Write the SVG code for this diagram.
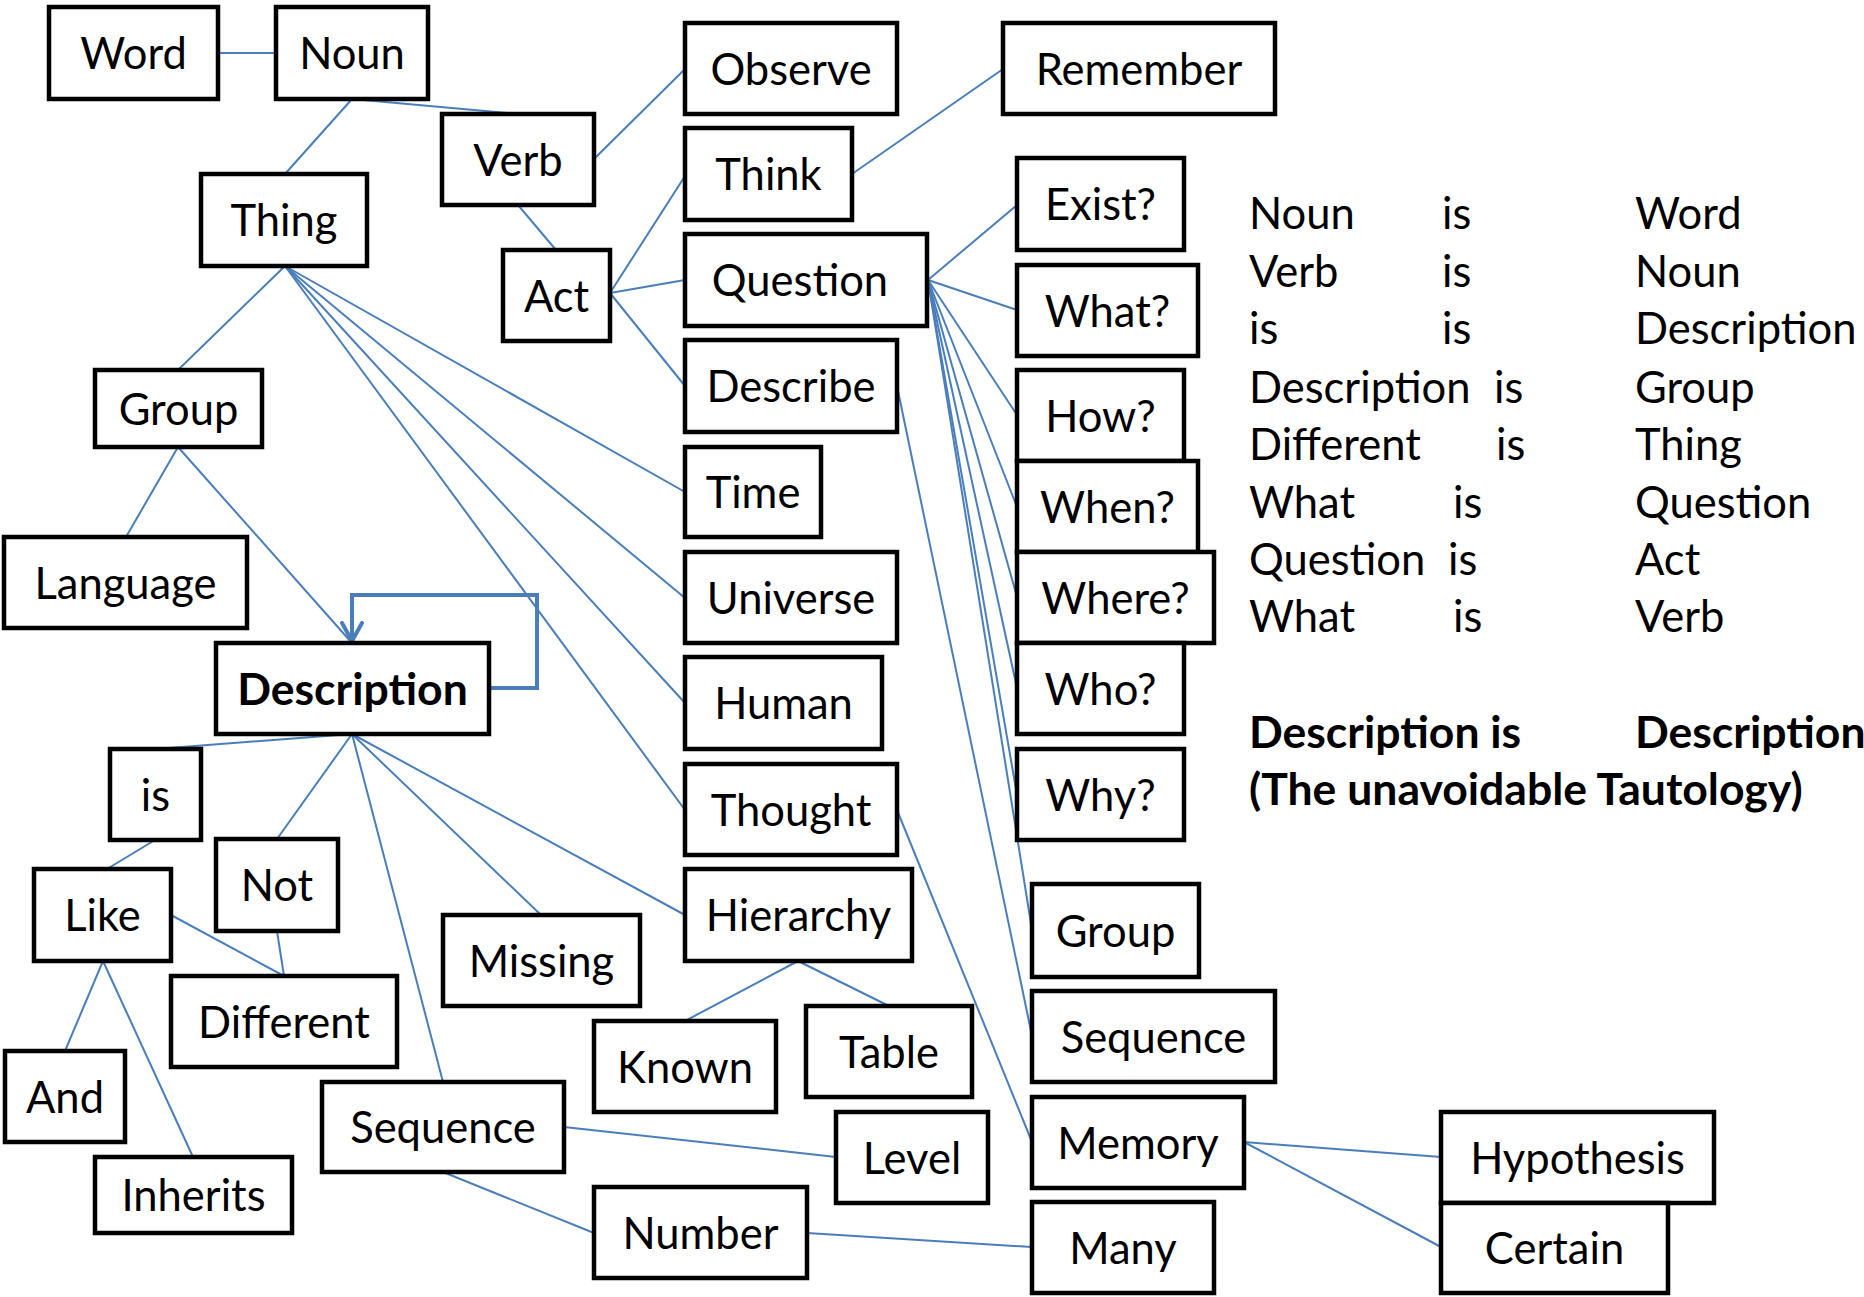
<svg xmlns="http://www.w3.org/2000/svg" width="1864" height="1297" viewBox="0 0 1864 1297">
  <defs>
    <style>
      .box { fill: #ffffff; stroke: #000000; stroke-width: 4.5; }
      .lbl { font-family: Lato, Carlito, "Liberation Sans", sans-serif; font-size: 43.5px; fill: #000000; text-anchor: middle; }
      .bold { font-weight: bold; font-size: 44.5px; }
      .edge { stroke: #4a7ebb; stroke-width: 2; fill: none; }
      .loop { stroke: #4a7ebb; stroke-width: 4; fill: none; stroke-linejoin: miter; }
      .note { font-family: Lato, Carlito, "Liberation Sans", sans-serif; font-size: 43.5px; fill: #000000; }
      .note .strong { font-weight: bold; font-size: 44.5px; }
    </style>
    <marker id="chevron" viewBox="0 0 24 24" refX="20" refY="12" markerWidth="24" markerHeight="24" markerUnits="userSpaceOnUse" orient="auto">
      <path d="M2,2 L20,12 L2,22" fill="none" stroke="#4a7ebb" stroke-width="4" stroke-linecap="round" stroke-linejoin="round"/>
    </marker>
  </defs>
  <rect x="0" y="0" width="1864" height="1297" fill="#ffffff"/>

  <!-- connectors -->
  <g id="connectors">
    <line class="edge" x1="218" y1="53" x2="276" y2="53"/>
    <line class="edge" x1="352" y1="99" x2="285" y2="174"/>
    <line class="edge" x1="352" y1="99" x2="518" y2="114"/>
    <line class="edge" x1="518" y1="205" x2="556" y2="250"/>
    <line class="edge" x1="594" y1="159" x2="685" y2="69"/>
    <line class="edge" x1="610" y1="293" x2="685" y2="176"/>
    <line class="edge" x1="610" y1="293" x2="685" y2="280"/>
    <line class="edge" x1="610" y1="293" x2="685" y2="386"/>
    <line class="edge" x1="852" y1="174" x2="1003" y2="69"/>
    <line class="edge" x1="928" y1="280" x2="1017" y2="205"/>
    <line class="edge" x1="928" y1="280" x2="1017" y2="310"/>
    <line class="edge" x1="928" y1="280" x2="1017" y2="415"/>
    <line class="edge" x1="928" y1="280" x2="1017" y2="507"/>
    <line class="edge" x1="928" y1="280" x2="1017" y2="597"/>
    <line class="edge" x1="928" y1="280" x2="1017" y2="688"/>
    <line class="edge" x1="928" y1="280" x2="1017" y2="795"/>
    <line class="edge" x1="928" y1="280" x2="1032" y2="930"/>
    <line class="edge" x1="897" y1="386" x2="1032" y2="1036"/>
    <line class="edge" x1="897" y1="810" x2="1032" y2="1142"/>
    <line class="edge" x1="285" y1="266" x2="178" y2="370"/>
    <line class="edge" x1="285" y1="266" x2="685" y2="492"/>
    <line class="edge" x1="285" y1="266" x2="685" y2="598"/>
    <line class="edge" x1="285" y1="266" x2="685" y2="703"/>
    <line class="edge" x1="285" y1="266" x2="685" y2="810"/>
    <line class="edge" x1="178" y1="447" x2="126" y2="537"/>
    <line class="edge" x1="178" y1="447" x2="352" y2="643"/>
    <line class="edge" x1="352" y1="734" x2="156" y2="749"/>
    <line class="edge" x1="352" y1="734" x2="277" y2="839"/>
    <line class="edge" x1="352" y1="734" x2="443" y2="1082"/>
    <line class="edge" x1="352" y1="734" x2="541" y2="915"/>
    <line class="edge" x1="352" y1="734" x2="685" y2="915"/>
    <line class="edge" x1="155" y1="840" x2="107" y2="869"/>
    <line class="edge" x1="171" y1="915" x2="284" y2="976"/>
    <line class="edge" x1="277" y1="931" x2="284" y2="976"/>
    <line class="edge" x1="103" y1="961" x2="65" y2="1051"/>
    <line class="edge" x1="103" y1="961" x2="193" y2="1157"/>
    <line class="edge" x1="798" y1="961" x2="685" y2="1021"/>
    <line class="edge" x1="798" y1="961" x2="889" y2="1006"/>
    <line class="edge" x1="564" y1="1127" x2="836" y2="1157"/>
    <line class="edge" x1="443" y1="1172" x2="594" y2="1233"/>
    <line class="edge" x1="807" y1="1233" x2="1032" y2="1247"/>
    <line class="edge" x1="1244" y1="1142" x2="1441" y2="1157"/>
    <line class="edge" x1="1244" y1="1142" x2="1441" y2="1247"/>
    <!-- Description refers back to itself -->
    <path class="loop" d="M489,688 H537 V595 H352 V641" marker-end="url(#chevron)"/>
  </g>

  <!-- nodes -->
  <g id="n-word"><rect class="box" x="49" y="7" width="169" height="92"/><text class="lbl" x="133.5" y="69">Word</text></g>
  <g id="n-noun"><rect class="box" x="276" y="7" width="152" height="92"/><text class="lbl" x="352" y="69">Noun</text></g>
  <g id="n-verb"><rect class="box" x="442" y="114" width="152" height="91"/><text class="lbl" x="518" y="176">Verb</text></g>
  <g id="n-thing"><rect class="box" x="201" y="174" width="166" height="92"/><text class="lbl" x="284" y="236">Thing</text></g>
  <g id="n-act"><rect class="box" x="503" y="250" width="107" height="91"/><text class="lbl" x="556.5" y="312">Act</text></g>
  <g id="n-observe"><rect class="box" x="685" y="23" width="212" height="91"/><text class="lbl" x="791" y="85">Observe</text></g>
  <g id="n-remember"><rect class="box" x="1003" y="23" width="272" height="91"/><text class="lbl" x="1139" y="85">Remember</text></g>
  <g id="n-think"><rect class="box" x="685" y="128" width="167" height="92"/><text class="lbl" x="768.5" y="190">Think</text></g>
  <g id="n-question"><rect class="box" x="685" y="234" width="242" height="92"/><text class="lbl" x="800" y="296">Question</text></g>
  <g id="n-describe"><rect class="box" x="685" y="340" width="212" height="92"/><text class="lbl" x="791" y="402">Describe</text></g>
  <g id="n-exist"><rect class="box" x="1017" y="158" width="167" height="92"/><text class="lbl" x="1100.5" y="220">Exist?</text></g>
  <g id="n-what"><rect class="box" x="1017" y="265" width="181" height="91"/><text class="lbl" x="1107.5" y="327">What?</text></g>
  <g id="n-how"><rect class="box" x="1017" y="370" width="167" height="91"/><text class="lbl" x="1100.5" y="432">How?</text></g>
  <g id="n-when"><rect class="box" x="1017" y="461" width="181" height="91"/><text class="lbl" x="1107.5" y="523">When?</text></g>
  <g id="n-where"><rect class="box" x="1017" y="552" width="197" height="91"/><text class="lbl" x="1115.5" y="614">Where?</text></g>
  <g id="n-who"><rect class="box" x="1017" y="643" width="167" height="91"/><text class="lbl" x="1100.5" y="705">Who?</text></g>
  <g id="n-why"><rect class="box" x="1017" y="749" width="167" height="91"/><text class="lbl" x="1100.5" y="811">Why?</text></g>
  <g id="n-group-a"><rect class="box" x="95" y="370" width="167" height="77"/><text class="lbl" x="178.5" y="425">Group</text></g>
  <g id="n-language"><rect class="box" x="4" y="537" width="243" height="91"/><text class="lbl" x="125.5" y="599">Language</text></g>
  <g id="n-description"><rect class="box" x="216" y="643" width="273" height="91"/><text class="lbl bold" x="352.5" y="705">Description</text></g>
  <g id="n-time"><rect class="box" x="685" y="447" width="136" height="90"/><text class="lbl" x="753" y="508">Time</text></g>
  <g id="n-universe"><rect class="box" x="685" y="552" width="212" height="91"/><text class="lbl" x="791" y="614">Universe</text></g>
  <g id="n-human"><rect class="box" x="685" y="657" width="197" height="92"/><text class="lbl" x="783.5" y="719">Human</text></g>
  <g id="n-thought"><rect class="box" x="685" y="764" width="212" height="91"/><text class="lbl" x="791" y="826">Thought</text></g>
  <g id="n-hierarchy"><rect class="box" x="685" y="869" width="227" height="92"/><text class="lbl" x="798.5" y="931">Hierarchy</text></g>
  <g id="n-is"><rect class="box" x="110" y="749" width="91" height="91"/><text class="lbl" x="155.5" y="811">is</text></g>
  <g id="n-not"><rect class="box" x="216" y="839" width="122" height="92"/><text class="lbl" x="277" y="901">Not</text></g>
  <g id="n-like"><rect class="box" x="34" y="869" width="137" height="92"/><text class="lbl" x="102.5" y="931">Like</text></g>
  <g id="n-different"><rect class="box" x="171" y="976" width="226" height="91"/><text class="lbl" x="284" y="1038">Different</text></g>
  <g id="n-missing"><rect class="box" x="443" y="915" width="197" height="91"/><text class="lbl" x="541.5" y="977">Missing</text></g>
  <g id="n-known"><rect class="box" x="594" y="1021" width="182" height="91"/><text class="lbl" x="685" y="1083">Known</text></g>
  <g id="n-table"><rect class="box" x="806" y="1006" width="166" height="91"/><text class="lbl" x="889" y="1068">Table</text></g>
  <g id="n-sequence-a"><rect class="box" x="322" y="1082" width="242" height="90"/><text class="lbl" x="443" y="1143">Sequence</text></g>
  <g id="n-level"><rect class="box" x="836" y="1112" width="152" height="91"/><text class="lbl" x="912" y="1174">Level</text></g>
  <g id="n-number"><rect class="box" x="594" y="1187" width="213" height="91"/><text class="lbl" x="700.5" y="1249">Number</text></g>
  <g id="n-and"><rect class="box" x="5" y="1051" width="120" height="91"/><text class="lbl" x="65" y="1113">And</text></g>
  <g id="n-inherits"><rect class="box" x="95" y="1157" width="197" height="76"/><text class="lbl" x="193.5" y="1211">Inherits</text></g>
  <g id="n-group-b"><rect class="box" x="1032" y="884" width="167" height="93"/><text class="lbl" x="1115.5" y="947">Group</text></g>
  <g id="n-sequence-b"><rect class="box" x="1032" y="991" width="243" height="91"/><text class="lbl" x="1153.5" y="1053">Sequence</text></g>
  <g id="n-memory"><rect class="box" x="1032" y="1097" width="212" height="91"/><text class="lbl" x="1138" y="1159">Memory</text></g>
  <g id="n-many"><rect class="box" x="1032" y="1202" width="182" height="91"/><text class="lbl" x="1123" y="1264">Many</text></g>
  <g id="n-hypothesis"><rect class="box" x="1441" y="1112" width="273" height="91"/><text class="lbl" x="1577.5" y="1174">Hypothesis</text></g>
  <g id="n-certain"><rect class="box" x="1441" y="1203" width="227" height="90"/><text class="lbl" x="1554.5" y="1264">Certain</text></g>

  <!-- statements list -->
  <g id="statements" class="note">
    <text y="229"><tspan x="1249">Noun</tspan><tspan x="1442">is</tspan><tspan x="1635">Word</tspan></text>
    <text y="287"><tspan x="1249">Verb</tspan><tspan x="1442">is</tspan><tspan x="1635">Noun</tspan></text>
    <text y="344"><tspan x="1249">is</tspan><tspan x="1442">is</tspan><tspan x="1635">Description</tspan></text>
    <text y="403"><tspan x="1249">Description</tspan><tspan x="1494">is</tspan><tspan x="1635">Group</tspan></text>
    <text y="460"><tspan x="1249">Different</tspan><tspan x="1496">is</tspan><tspan x="1635">Thing</tspan></text>
    <text y="518"><tspan x="1249">What</tspan><tspan x="1453">is</tspan><tspan x="1635">Question</tspan></text>
    <text y="575"><tspan x="1249">Question</tspan><tspan x="1448">is</tspan><tspan x="1635">Act</tspan></text>
    <text y="632"><tspan x="1249">What</tspan><tspan x="1453">is</tspan><tspan x="1635">Verb</tspan></text>
    <text class="strong" y="748"><tspan x="1249">Description is</tspan><tspan x="1635">Description</tspan></text>
    <text class="strong" y="805" x="1249">(The unavoidable Tautology)</text>
  </g>
</svg>
